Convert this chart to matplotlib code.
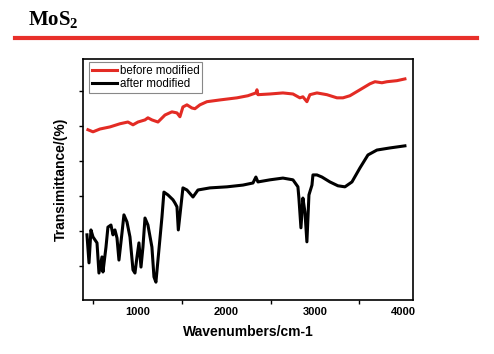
import matplotlib
matplotlib.use('Agg')
import matplotlib.pyplot as plt
from matplotlib.lines import Line2D
from matplotlib.ticker import MultipleLocator

# FTIR spectra (transmittance in arbitrary units)
before_wn = [445, 502, 580, 693, 805, 895, 952, 1008, 1087, 1120, 1165, 1233,
             1312, 1390, 1447, 1480, 1514, 1559, 1615, 1649, 1705, 1784, 1930,
             2122, 2245, 2335, 2347, 2358, 2493, 2639, 2752, 2830, 2864, 2909,
             2943, 3022, 3134, 3247, 3315, 3393, 3506, 3618, 3675, 3753, 3810,
             3922, 4012]
before_t = [4.89, 4.83, 4.91, 4.97, 5.06, 5.11, 5.03, 5.11, 5.17, 5.23, 5.17, 5.11,
            5.31, 5.40, 5.37, 5.26, 5.54, 5.60, 5.51, 5.49, 5.60, 5.69, 5.74,
            5.80, 5.86, 5.94, 6.03, 5.89, 5.91, 5.94, 5.91, 5.80, 5.83, 5.69,
            5.89, 5.94, 5.89, 5.80, 5.80, 5.86, 6.03, 6.20, 6.26, 6.23, 6.26,
            6.29, 6.34]

after_wn = [434, 457, 479, 502, 547, 569, 603, 614, 648, 670, 704, 727, 749, 772,
            794, 828, 850, 884, 918, 952, 974, 997, 1019, 1042, 1064, 1087, 1120,
            1165, 1188, 1210, 1233, 1278, 1300, 1345, 1402, 1424, 1447, 1462,
            1514, 1559, 1627, 1683, 1818, 2009, 2189, 2302, 2335, 2358, 2493,
            2639, 2752, 2808, 2819, 2842, 2864, 2887, 2909, 2932, 2966, 2977,
            3022, 3078, 3168, 3258, 3337, 3416, 3506, 3596, 3697, 3843, 4012]
after_t = [1.89, 1.09, 2.03, 1.83, 1.66, 0.80, 1.26, 0.83, 1.54, 2.11, 2.17, 1.89,
           2.03, 1.80, 1.17, 1.94, 2.46, 2.26, 1.83, 0.89, 0.80, 1.26, 1.66, 0.97,
           1.54, 2.37, 2.17, 1.54, 0.69, 0.54, 1.17, 2.40, 3.11, 3.03, 2.89, 2.80,
           2.69, 2.03, 3.23, 3.17, 2.97, 3.17, 3.23, 3.26, 3.31, 3.37, 3.54, 3.40,
           3.46, 3.51, 3.46, 3.26, 2.94, 2.09, 2.94, 2.54, 1.69, 3.03, 3.31, 3.60,
           3.60, 3.54, 3.40, 3.29, 3.26, 3.40, 3.80, 4.17, 4.31, 4.37, 4.43]

fig = plt.figure(figsize=(4.94, 3.54), dpi=100)

# slide-style title and red rule
fig.text(0.057, 0.943, r'MoS$_\mathregular{2}$', fontsize=15, fontweight='bold',
         family='Liberation Serif', va='center', ha='left')
fig.add_artist(Line2D([0.030, 0.966], [0.894, 0.894], transform=fig.transFigure,
                      color='#e8302a', linewidth=3))

ax = fig.add_axes([0.1674, 0.1525, 0.669, 0.681])
ax.plot(before_wn, before_t, color='#e32b24', linewidth=2.2, label='before modified')
ax.plot(after_wn, after_t, color='black', linewidth=2.2, label='after modified')

ax.set_xlim(386, 4105)
ax.set_ylim(0.03, 6.91)
ax.xaxis.set_major_locator(MultipleLocator(1000))
ax.xaxis.set_minor_locator(MultipleLocator(500))
ax.set_yticks([1, 2, 3, 4, 5, 6])
ax.set_yticklabels([])
ax.tick_params(axis='both', which='both', direction='out', length=3, width=1)
ax.tick_params(axis='x', which='major', length=0, pad=5)
for lbl in ax.get_xticklabels():
    lbl.set_fontweight('bold')
    lbl.set_fontsize(8)
    lbl.set_family('Liberation Sans')
for s in ax.spines.values():
    s.set_linewidth(1.2)

ax.set_xlabel('Wavenumbers/cm-1', fontsize=10, fontweight='bold',
              family='Liberation Sans', labelpad=6)
ax.set_ylabel('Transimittance/(%)', fontsize=10, fontweight='bold',
              family='Liberation Sans', labelpad=4)

leg = ax.legend(loc='upper left', bbox_to_anchor=(0.012, 0.995), fancybox=False,
                prop={'family': 'Liberation Sans', 'size': 8.3}, handlelength=2.2,
                handletextpad=0.2, borderpad=0.25, labelspacing=0.05,
                borderaxespad=0.2, framealpha=1)
leg.get_frame().set_edgecolor('#888888')
leg.get_frame().set_linewidth(0.8)

fig.savefig('out.png', dpi=100)
